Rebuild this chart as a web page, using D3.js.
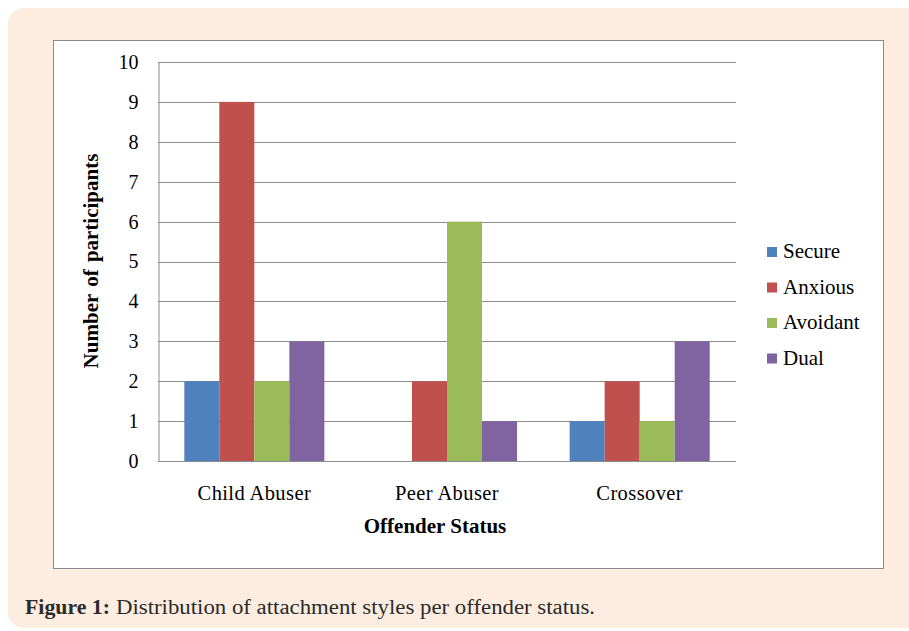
<!DOCTYPE html>
<html>
<head>
<meta charset="utf-8">
<script src="https://cdn.jsdelivr.net/npm/d3@7"></script>
<style>
  html, body { margin: 0; padding: 0; background: #ffffff; }
  svg { display: block; }
</style>
</head>
<body>
<svg id="chart"></svg>
<script>
// Chart data
const categories = ["Child Abuser", "Peer Abuser", "Crossover"]
const seriesNames = ["Secure", "Anxious", "Avoidant", "Dual"]
const secure = [2, 0, 1]
const anxious = [9, 2, 2]
const avoidant = [2, 6, 1]
const dual = [3, 1, 3]
const yTicks = [0, 1, 2, 3, 4, 5, 6, 7, 8, 9, 10]
const colors = ["#4F81BD", "#C0504D", "#9BBB59", "#8064A2"]

const seriesValues = [secure, anxious, avoidant, dual]
const data = categories.map((c, i) => ({
    category: c,
    values: seriesNames.map((s, j) => ({ series: s, value: seriesValues[j][i] }))
}))

const serif = "'Liberation Serif', 'Times New Roman', serif"

// Canvas
const W = 909, H = 631
const svg = d3.select("#chart").attr("width", W).attr("height", H)

// Beige figure panel (runs off the right edge)
svg.append("rect")
    .attr("x", 8).attr("y", 8)
    .attr("width", 940).attr("height", 620)
    .attr("rx", 16)
    .attr("fill", "#FDEDE0")

// White chart box
svg.append("rect")
    .attr("x", 53.5).attr("y", 40.5)
    .attr("width", 830).attr("height", 528)
    .attr("fill", "#ffffff")
    .attr("stroke", "#8a8a8a")
    .attr("stroke-width", 1)

// Plot area
const plot = { left: 158, top: 62, right: 736, bottom: 461 }
const g = svg.append("g")

const yScale = d3.scaleLinear()
    .domain([0, 10])
    .range([plot.bottom, plot.top])

const x0 = d3.scaleBand()
    .domain(categories)
    .range([plot.left, plot.right])
    .paddingInner(0.273)
    .paddingOuter(0.1365)

const x1 = d3.scaleBand()
    .domain(seriesNames)
    .range([0, x0.bandwidth()])

// Gridlines
g.selectAll("line.grid")
    .data(yTicks.filter(d => d > 0))
    .enter()
    .append("line")
    .attr("x1", plot.left)
    .attr("x2", plot.right)
    .attr("y1", d => Math.round(yScale(d)) + 0.5)
    .attr("y2", d => Math.round(yScale(d)) + 0.5)
    .attr("stroke", "#8c8c8c")
    .attr("stroke-width", 1)

// Bars
const groups = g.selectAll("g.group")
    .data(data)
    .enter()
    .append("g")
    .attr("transform", d => "translate(" + x0(d.category) + ",0)")

groups.selectAll("rect")
    .data(d => d.values)
    .enter()
    .append("rect")
    .attr("x", d => x1(d.series))
    .attr("y", d => yScale(d.value))
    .attr("width", x1.bandwidth())
    .attr("height", d => yScale(0) - yScale(d.value))
    .attr("fill", (d, i) => colors[i])

// Y axis
const yAxis = d3.axisLeft(yScale)
    .tickValues(yTicks)
    .tickSize(0)
    .tickPadding(20)
    .tickFormat(d3.format("d"))

const yAxisG = g.append("g")
    .attr("transform", "translate(" + (plot.left + 0.5) + ",0)")
    .call(yAxis)
yAxisG.select(".domain").attr("stroke", "#8c8c8c")
yAxisG.selectAll("text")
    .attr("font-family", serif)
    .attr("font-size", "20px")
    .attr("fill", "#000")

// X axis
const xAxis = d3.axisBottom(x0)
    .tickSize(0)
    .tickPadding(24)
    .tickSizeOuter(0)

const xAxisG = g.append("g")
    .attr("transform", "translate(0," + (plot.bottom + 0.5) + ")")
    .call(xAxis)
xAxisG.select(".domain").attr("stroke", "#8c8c8c")
    .attr("d", "M" + plot.left + ",0H" + plot.right)
xAxisG.selectAll("text")
    .attr("font-family", serif)
    .attr("font-size", "20.5px")
    .attr("letter-spacing", "0.4px")
    .attr("fill", "#000")

// Axis titles
svg.append("text")
    .attr("x", 435)
    .attr("y", 533)
    .attr("text-anchor", "middle")
    .attr("font-family", serif)
    .attr("font-weight", "bold")
    .attr("font-size", "21px")
    .text("Offender Status")

svg.append("text")
    .attr("transform", "translate(98,261) rotate(-90)")
    .attr("text-anchor", "middle")
    .attr("font-family", serif)
    .attr("font-weight", "bold")
    .attr("font-size", "21px")
    .attr("word-spacing", "2px")
    .text("Number of participants")

// Legend
const legend = svg.append("g")
    .selectAll("g")
    .data(seriesNames)
    .enter()
    .append("g")
    .attr("transform", (d, i) => "translate(767," + (247 + i * 35.5) + ")")

legend.append("rect")
    .attr("width", 10).attr("height", 10)
    .attr("fill", (d, i) => colors[i])

legend.append("text")
    .attr("x", 16)
    .attr("y", 11)
    .attr("font-family", serif)
    .attr("font-size", "21px")
    .attr("fill", "#000")
    .text(d => d)

// Caption
svg.append("text")
    .attr("x", 25)
    .attr("y", 614)
    .attr("font-family", serif)
    .attr("font-weight", "bold")
    .attr("font-size", "20px")
    .attr("fill", "#2b2b2b")
    .attr("textLength", 85)
    .attr("lengthAdjust", "spacingAndGlyphs")
    .text("Figure 1:")

svg.append("text")
    .attr("x", 116)
    .attr("y", 614)
    .attr("font-family", serif)
    .attr("font-size", "20px")
    .attr("fill", "#2b2b2b")
    .attr("textLength", 479)
    .attr("lengthAdjust", "spacingAndGlyphs")
    .text("Distribution of attachment styles per offender status.")
</script>
</body>
</html>
